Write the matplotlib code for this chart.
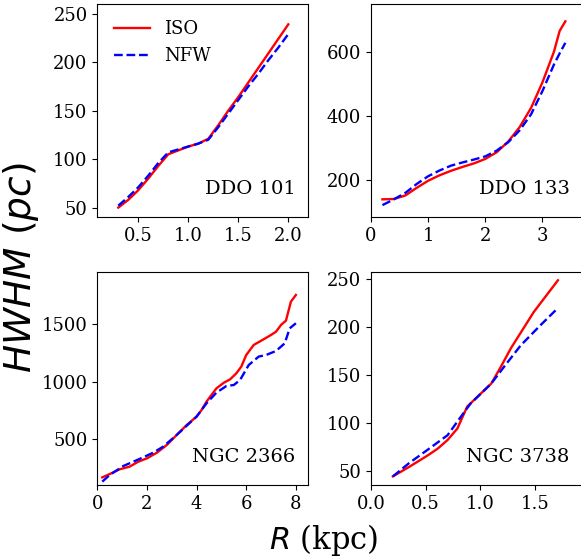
import matplotlib
matplotlib.use("Agg")
import matplotlib.pyplot as plt

plt.rcParams["font.family"] = "serif"
plt.rcParams["mathtext.fontset"] = "dejavusans"

# ─── Dados ───────────────────────────────────────────────────────────────────
ddo101_r   = [0.3, 0.4, 0.5, 0.6, 0.7, 0.8, 0.9, 1.0, 1.1, 1.2, 1.3, 1.4, 1.5, 1.6, 1.7, 1.8, 1.9, 2.0]
ddo101_iso = [50, 58, 68, 80, 93, 105, 109, 113, 116, 121, 135, 150, 164, 179, 194, 209, 224, 239]
ddo101_nfw = [52, 61, 71, 83, 96, 107, 110, 113, 116, 120, 133, 147, 161, 175, 188, 202, 215, 229]

ddo133_r   = [0.2, 0.4, 0.6, 0.8, 1.0, 1.2, 1.4, 1.6, 1.8, 2.0, 2.2, 2.4, 2.6, 2.8, 3.0, 3.2, 3.3, 3.4]
ddo133_iso = [140, 141, 152, 176, 198, 215, 229, 241, 252, 266, 287, 320, 365, 425, 505, 600, 665, 695]
ddo133_nfw = [122, 140, 160, 188, 212, 230, 245, 255, 264, 274, 292, 318, 355, 405, 478, 560, 595, 628]

ngc2366_r_iso = [0.2, 0.5, 0.9, 1.3, 1.65, 2.0, 2.4, 2.8, 3.2, 3.6, 4.0, 4.2, 4.4, 4.8, 5.1, 5.35,
                 5.6, 5.8, 6.0, 6.3, 6.7, 7.0, 7.2, 7.4, 7.6, 7.8, 8.0]
ngc2366_iso   = [170, 199, 240, 263, 306, 335, 384, 451, 538, 624, 697, 754, 827, 942, 991, 1020,
                 1072, 1130, 1231, 1318, 1367, 1405, 1433, 1491, 1529, 1694, 1751]
ngc2366_r_nfw = [0.2, 0.5, 1.05, 1.45, 1.85, 2.25, 2.65, 3.2, 4.0, 4.4, 4.8, 5.2, 5.5, 5.75,
                 6.1, 6.5, 6.8, 7.2, 7.55, 7.75, 8.0]
ngc2366_nfw   = [133, 191, 269, 306, 344, 384, 436, 538, 697, 812, 905, 962, 971, 1014,
                 1144, 1217, 1231, 1266, 1332, 1462, 1506]

ngc3738_r_iso = [0.2, 0.35, 0.52, 0.61, 0.7, 0.79, 0.88, 0.99, 1.1, 1.19, 1.28, 1.49, 1.71]
ngc3738_iso   = [44, 54, 66, 73, 82, 94, 117, 129, 141, 159, 178, 216, 249]
ngc3738_r_nfw = [0.2, 0.35, 0.52, 0.7, 0.82, 0.91, 1.1, 1.22, 1.37, 1.55, 1.71]
ngc3738_nfw   = [44, 58, 72, 87, 106, 120, 141, 159, 181, 202, 220]

# ─── Layout (posições em fração da figura) ───────────────────────────────────
W, H = 581, 560
fig = plt.figure(figsize=(W / 100, H / 100), dpi=100)

def make_ax(x0, y_top, x1, y_bot):
    return fig.add_axes([x0 / W, 1 - y_bot / H, (x1 - x0) / W, (y_bot - y_top) / H])

ax1 = make_ax(97.3, 4, 308.3, 217.3)
ax2 = make_ax(371, 4, 582.5, 217.3)
ax3 = make_ax(97.3, 271.7, 308.3, 485)
ax4 = make_ax(371, 271.7, 582.5, 485)

panels = [
    (ax1, ddo101_r, ddo101_iso, ddo101_r, ddo101_nfw, "DDO 101", (0.09, 2.2), (40, 260), [0.5, 1.0, 1.5, 2.0], [50, 100, 150, 200, 250]),
    (ax2, ddo133_r, ddo133_iso, ddo133_r, ddo133_nfw, "DDO 133", (0, 3.7), (84, 749), [0, 1, 2, 3], [200, 400, 600]),
    (ax3, ngc2366_r_iso, ngc2366_iso, ngc2366_r_nfw, ngc2366_nfw, "NGC 2366", (0, 8.5), (104, 1953), [0, 2, 4, 6, 8], [500, 1000, 1500]),
    (ax4, ngc3738_r_iso, ngc3738_iso, ngc3738_r_nfw, ngc3738_nfw, "NGC 3738", (0, 1.935), (35, 258), [0.0, 0.5, 1.0, 1.5], [50, 100, 150, 200, 250]),
]

for ax, r_iso, iso, r_nfw, nfw, name, xl, yl, xt, yt in panels:
    ax.plot(r_iso, iso, color="red", linestyle="-", linewidth=1.7, label="ISO")
    ax.plot(r_nfw, nfw, color="blue", linestyle="--", linewidth=1.7, label="NFW")
    ax.set_xlim(*xl)
    ax.set_ylim(*yl)
    ax.set_xticks(xt)
    ax.set_yticks(yt)
    if isinstance(xt[0], float):
        ax.set_xticklabels([f"{v:.1f}" for v in xt])
    ax.tick_params(labelsize=13)
    ax.text(0.94, 0.09, name, transform=ax.transAxes, ha="right", va="bottom", fontsize=14)

ax1.legend(loc="upper left", frameon=False, fontsize=13, handlelength=2.0)

fig.text(21 / W, 1 - 268 / H, r"$HWHM\ (pc)$", rotation=90, ha="center", va="center", fontsize=27)
fig.text(324 / W, 1 - 540 / H, r"$R$ (kpc)", ha="center", va="center", fontsize=22)

plt.savefig("out.png", dpi=100)
plt.close()
